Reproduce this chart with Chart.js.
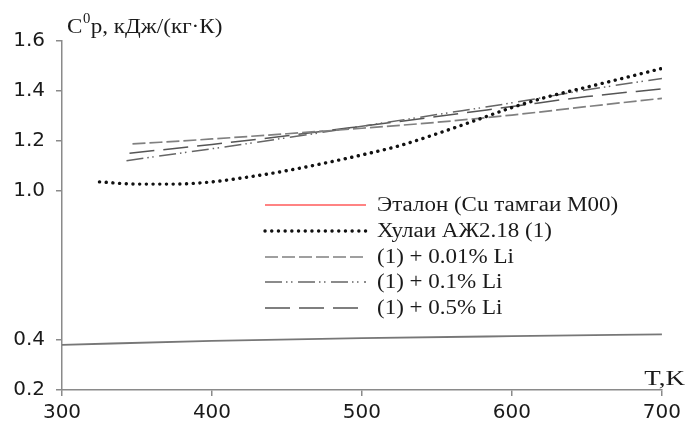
<!DOCTYPE html>
<html>
<head>
<meta charset="utf-8">
<script src="https://cdn.jsdelivr.net/npm/chart.js@4.4.1/dist/chart.umd.min.js"></script>
<style>
  html, body { margin: 0; padding: 0; background: #fff; }
  #wrap { width: 686px; height: 423px; position: relative; }
</style>
</head>
<body>
<div id="wrap"><canvas id="c" width="686" height="423"></canvas></div>
<script>
// Temperature, K
const tEtalon = [300, 400, 500, 600, 700];
const cpEtalon = [0.381, 0.397, 0.408, 0.416, 0.423];

const tAlloy = [325, 350, 375, 400, 425, 450, 475, 500, 525, 550, 575, 600, 625, 650, 675, 700];
const cpAlloy = [1.035, 1.026, 1.026, 1.035, 1.055, 1.080, 1.110, 1.143, 1.180, 1.228, 1.280, 1.333, 1.378, 1.415, 1.452, 1.490];

const tLi001 = [347, 400, 450, 500, 550, 600, 650, 700];
const cpLi001 = [1.187, 1.207, 1.228, 1.250, 1.274, 1.303, 1.337, 1.370];

const tLi01 = [343, 400, 450, 500, 550, 600, 650, 700];
const cpLi01 = [1.120, 1.168, 1.212, 1.258, 1.305, 1.352, 1.404, 1.450];

const tLi05 = [345, 400, 450, 500, 550, 600, 650, 700];
const cpLi05 = [1.150, 1.185, 1.220, 1.258, 1.297, 1.337, 1.377, 1.408];

const seriesNames = [
  'Эталон (Cu тамгаи М00)',
  'Хулаи АЖ2.18 (1)',
  '(1) + 0.01% Li',
  '(1) + 0.1% Li',
  '(1) + 0.5% Li'
];

const xTicks = [300, 400, 500, 600, 700];
const yTicks = [0.2, 0.4, 1.0, 1.2, 1.4, 1.6];

const pts = (xs, ys) => xs.map((x, i) => ({ x, y: ys[i] }));

const datasets = [
  { label: seriesNames[0], data: pts(tEtalon, cpEtalon), borderColor: '#777', borderWidth: 1.8,
    legendColor: '#ff5a5a', legendWidth: 1.6 },
  { label: seriesNames[1], data: pts(tAlloy, cpAlloy), borderColor: '#111', borderWidth: 3.4,
    borderDash: [0.1, 6.6], borderCapStyle: 'round' },
  { label: seriesNames[2], data: pts(tLi001, cpLi001), borderColor: '#808080', borderWidth: 1.7,
    borderDash: [13, 4] },
  { label: seriesNames[3], data: pts(tLi01, cpLi01), borderColor: '#666', borderWidth: 1.5,
    borderDash: [17, 4, 1.5, 3.5, 1.5, 5.5] },
  { label: seriesNames[4], data: pts(tLi05, cpLi05), borderColor: '#555', borderWidth: 1.5,
    borderDash: [25, 9] }
];
datasets.forEach(d => {
  d.fill = false; d.pointRadius = 0; d.tension = 0.4; d.cubicInterpolationMode = 'monotone';
});

const SERIF = '"Liberation Serif", "Times New Roman", serif';

// serif text, slightly widened horizontally
function wideText(ctx, text, x, y, size, sx, align) {
  ctx.save();
  ctx.font = size + 'px ' + SERIF;
  const w = ctx.measureText(text).width * sx;
  ctx.translate(align === 'right' ? x - w : x, y);
  ctx.scale(sx, 1);
  ctx.textAlign = 'left';
  ctx.fillText(text, 0, 0);
  ctx.restore();
  return w;
}

// Axis captions and the in-plot legend
const decor = {
  id: 'decor',
  afterDraw(chart) {
    const ctx = chart.ctx;
    ctx.save();
    ctx.fillStyle = '#1a1a1a';
    ctx.textBaseline = 'alphabetic';
    // y caption: C^0 p, ...
    let x = 67;
    const yb = 33;
    x += wideText(ctx, 'C', x, yb, 22, 1.05);
    x += wideText(ctx, '0', x + 0.5, yb - 10, 14, 1.05) + 1;
    wideText(ctx, 'p, кДж/(кг·К)', x, yb, 22, 1.05);
    // x caption
    wideText(ctx, 'T,K', 685, 385, 20, 1.35, 'right');

    // legend
    ctx.textBaseline = 'middle';
    const rows = [205, 231, 257, 282, 308];
    chart.data.datasets.forEach((d, i) => {
      const y = rows[i];
      ctx.save();
      ctx.beginPath();
      ctx.strokeStyle = d.legendColor || d.borderColor;
      ctx.lineWidth = d.legendWidth || d.borderWidth;
      ctx.lineCap = d.borderCapStyle || 'butt';
      ctx.setLineDash(d.borderDash || []);
      ctx.moveTo(265, y);
      ctx.lineTo(i === 4 ? 360 : 366, y);
      ctx.stroke();
      ctx.restore();
      ctx.fillStyle = '#1a1a1a';
      wideText(ctx, d.label, 377, y + 1, 20, 1.15);
    });
    ctx.restore();
  }
};

new Chart(document.getElementById('c'), {
  type: 'line',
  data: { datasets },
  options: {
    responsive: false,
    animation: false,
    layout: { padding: { top: 41, right: 23, left: 0, bottom: 0 } },
    plugins: { legend: { display: false }, tooltip: { enabled: false } },
    scales: {
      x: {
        type: 'linear', min: 300, max: 700,
        afterBuildTicks: s => { s.ticks = xTicks.map(v => ({ value: v })); },
        afterFit: s => { s.height = 33; },
        grid: { drawOnChartArea: false, tickLength: 6, color: '#8a8a8a', lineWidth: 1.5 },
        border: { color: '#8a8a8a', width: 1.5 },
        ticks: { color: '#1a1a1a', padding: 5, maxRotation: 0,
          font: { family: '"DejaVu Sans", Arial, sans-serif', size: 20 } }
      },
      y: {
        type: 'linear', min: 0.2, max: 1.6,
        afterBuildTicks: s => { s.ticks = yTicks.map(v => ({ value: v })); },
        afterFit: s => { s.width = 62; },
        grid: { drawOnChartArea: false, tickLength: 6, color: '#8a8a8a', lineWidth: 1.5 },
        border: { color: '#8a8a8a', width: 1.5 },
        ticks: { color: '#1a1a1a', padding: 11,
          callback: v => Number(v).toFixed(1),
          font: { family: '"DejaVu Sans", Arial, sans-serif', size: 20 } }
      }
    }
  },
  plugins: [decor]
});
</script>
</body>
</html>
